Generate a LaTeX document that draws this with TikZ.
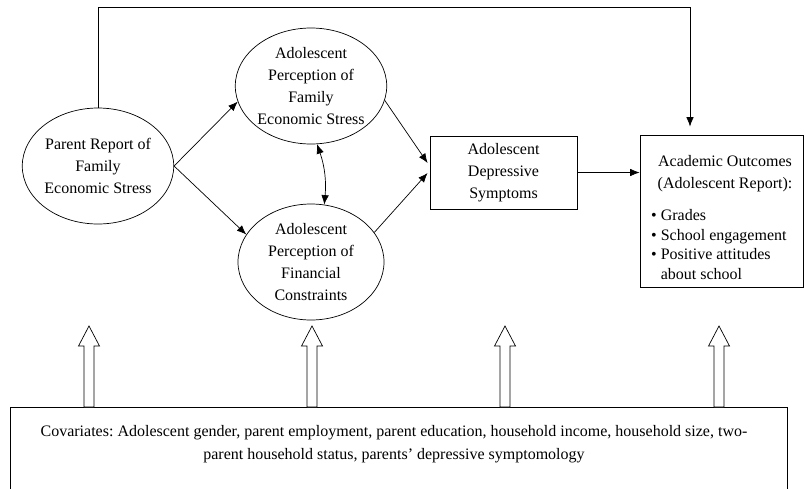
\documentclass[tikz,border=0pt]{standalone}
\usepackage{fontspec}
\setmainfont{Liberation Serif}
\usetikzlibrary{arrows.meta,calc,shapes.geometric}
\frenchspacing
\newcommand\hollowup[2]{%
  \draw[hollow] (#1-5,407) -- (#1-5,346) -- (#1-10.5,346) -- (#1,326) -- (#1+10.5,346) -- (#1+5,346) -- (#1+5,407) -- cycle;
  \coordinate (#2) at (#1,326);}
\begin{document}
\begin{tikzpicture}[x=1pt,y=-1pt,
  every node/.style={font=\fontsize{16}{21.7}\selectfont},
  ell/.style={draw, ellipse, minimum width=146pt, minimum height=116pt, inner sep=0pt, align=center, line width=0.7pt},
  box/.style={draw, rectangle, inner sep=0pt, line width=0.8pt},
  arr/.style={-{Latex[length=9.5pt,width=7.5pt]}, line width=0.7pt},
  darr/.style={{Latex[length=9.5pt,width=7.5pt]}-{Latex[length=9.5pt,width=7.5pt]}, line width=0.7pt},
  hollow/.style={draw, line width=0.7pt, fill=white}]
\useasboundingbox (0,0) rectangle (805,488);

\node[ell] (parent) at (98,166) {Parent Report of\\Family\\Economic Stress};
\node[ell] (ape) at (311,86) {Adolescent\\Perception of\\Family\\Economic Stress};
\node[ell] (bpe) at (311,262) {Adolescent\\Perception of\\Financial\\Constraints};
\node[box, minimum width=147pt, minimum height=73pt, align=center] (dep) at (503.5,172.5) {Adolescent\\Depressive\\Symptoms};
\node[box, minimum width=163pt, minimum height=152pt] (acad) at (721.5,211) {};
\node[align=center, inner sep=0pt] (acadh) at (725,173.5) {Academic Outcomes\\(Adolescent Report):};
\node[anchor=north west, inner sep=0pt, font=\fontsize{16}{19.5}\selectfont] (acadl) at (651,207) {%
  \begin{tabular}{@{}l@{\hspace{4pt}}l@{}}
  \textbullet & Grades\\
  \textbullet & School engagement\\
  \textbullet & Positive attitudes\\
   & about school
  \end{tabular}};

% covariates box
\draw[line width=0.8pt] (10,495) -- (10,407) -- (787,407) -- (787,495);
\node[align=center, inner sep=0pt, font=\fontsize{16}{23}\selectfont] (cov) at (394,444) {Covariates: Adolescent gender, parent employment, parent education, household income, household size, two-\\parent household status, parents' depressive symptomology};

% connectors
\draw[arr] (parent.east) -- (ape.192);
\draw[arr] (parent.east) -- (bpe.157);
\draw[darr] (ape.-84) to[bend left=12] (bpe.77);
\draw[arr] (ape.-11) -- ($(dep.west)+(-2,-9.5)$);
\draw[arr] (bpe.25) -- ($(dep.west)+(-2,0.5)$);
\draw[arr] (dep.east) -- (dep.east -| acad.west);
\coordinate (topR) at ($(acad.north)+(-31.5,-8)$);
\draw[arr] (parent.north) -- (parent.north |- 0,7) -| (topR);

% hollow arrows from covariates
\hollowup{89}{c1}
\hollowup{312}{c2}
\hollowup{505}{c3}
\hollowup{719}{c4}
\end{tikzpicture}
\end{document}
